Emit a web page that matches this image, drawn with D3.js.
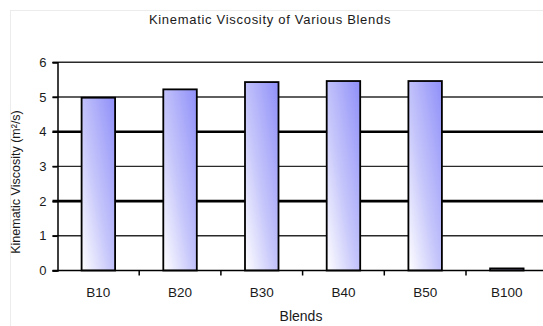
<!DOCTYPE html>
<html>
<head>
<meta charset="utf-8">
<script src="https://cdn.jsdelivr.net/npm/d3@7"></script>
<style>
  html, body { margin: 0; padding: 0; background: #fff; }
  svg { display: block; font-family: "Liberation Sans", Arial, sans-serif; }
</style>
</head>
<body>
<svg id="chart" width="543" height="326"></svg>
<script>
// Kinematic viscosity per blend
const categories = ["B10", "B20", "B30", "B40", "B50", "B100"];
const viscosity = [4.98, 5.22, 5.43, 5.46, 5.46, 0.06];
const yTicks = [0, 1, 2, 3, 4, 5, 6];

const title = "Kinematic Viscosity of Various Blends";
const xTitle = "Blends";
const yTitle = "Kinematic Viscosity (m²/s)";

const svg = d3.select("#chart");

// faint chart-area frame
svg.append("rect")
  .attr("x", 10.5).attr("y", 10.5)
  .attr("width", 560).attr("height", 340)
  .attr("fill", "none").attr("stroke", "#ececec");

const plot = { left: 57.5, right: 547.7, top: 62.3, bottom: 270.5 };

const x = d3.scaleBand().domain(categories).range([plot.left, plot.right]).padding(0);
const y = d3.scaleLinear().domain([0, 6]).range([plot.bottom, plot.top]);
const barW = x.bandwidth() * 0.41;

// bar fill gradient
const defs = svg.append("defs");
const grad = defs.append("linearGradient")
  .attr("id", "barFill")
  .attr("x1", "0").attr("y1", "1").attr("x2", "1").attr("y2", "0");
grad.append("stop").attr("offset", "0%").attr("stop-color", "#ffffff");
grad.append("stop").attr("offset", "45%").attr("stop-color", "#c6c6fb");
grad.append("stop").attr("offset", "100%").attr("stop-color", "#8f8ff9");

// horizontal gridlines
svg.append("g").selectAll("line")
  .data(yTicks.filter(d => d > 0))
  .join("line")
  .attr("x1", plot.left - 5).attr("x2", plot.right)
  .attr("y1", d => y(d)).attr("y2", d => y(d))
  .attr("stroke", d => (d === 2 || d === 4) ? "#000" : "#2a2a2a")
  .attr("stroke-width", d => (d === 2 || d === 4) ? 2.6 : 1.4);

// bars
svg.append("g").selectAll("rect")
  .data(categories.map((c, i) => ({ c, v: viscosity[i] })))
  .join("rect")
  .attr("x", d => x(d.c) + (x.bandwidth() - barW) / 2)
  .attr("y", d => y(d.v))
  .attr("width", barW)
  .attr("height", d => y(0) - y(d.v))
  .attr("fill", "url(#barFill)")
  .attr("stroke", "#000")
  .attr("stroke-width", 1.8);

// y axis
const yAxis = svg.append("g")
  .attr("transform", `translate(${plot.left},0)`)
  .call(d3.axisLeft(y).tickValues(yTicks).tickSize(5).tickPadding(6).tickFormat(d3.format("d")));
yAxis.select(".domain").attr("stroke", "#000").attr("stroke-width", 1.5);
yAxis.selectAll(".tick line").attr("stroke", "#000").attr("stroke-width", 1.5);
yAxis.selectAll("text")
  .attr("font-size", 13).attr("fill", "#1a1a1a")
  .attr("font-family", "Liberation Sans, Arial, sans-serif");

// x axis: ticks at category boundaries
const xAxisG = svg.append("g").attr("transform", `translate(0,${plot.bottom})`);
xAxisG.append("line")
  .attr("x1", plot.left - 5).attr("x2", plot.right)
  .attr("y1", 0).attr("y2", 0)
  .attr("stroke", "#000").attr("stroke-width", 1.5);
xAxisG.selectAll("line.tk")
  .data(categories.slice(1))
  .join("line").attr("class", "tk")
  .attr("x1", d => x(d)).attr("x2", d => x(d))
  .attr("y1", 0).attr("y2", 5)
  .attr("stroke", "#000").attr("stroke-width", 1.5);
xAxisG.selectAll("text")
  .data(categories)
  .join("text")
  .attr("x", d => x(d) + x.bandwidth() / 2)
  .attr("y", 26)
  .attr("text-anchor", "middle")
  .attr("font-size", 13.5).attr("fill", "#1a1a1a")
  .text(d => d);

// titles
svg.append("text")
  .attr("x", 270).attr("y", 24)
  .attr("text-anchor", "middle")
  .attr("font-size", 13).attr("fill", "#1a1a1a")
  .attr("letter-spacing", 0.7)
  .text(title);

svg.append("text")
  .attr("x", 301).attr("y", 321)
  .attr("text-anchor", "middle")
  .attr("font-size", 14).attr("fill", "#1a1a1a")
  .text(xTitle);

svg.append("text")
  .attr("transform", "translate(20,182) rotate(-90)")
  .attr("text-anchor", "middle")
  .attr("font-size", 12.5).attr("fill", "#1a1a1a")
  .text(yTitle);
</script>
</body>
</html>
